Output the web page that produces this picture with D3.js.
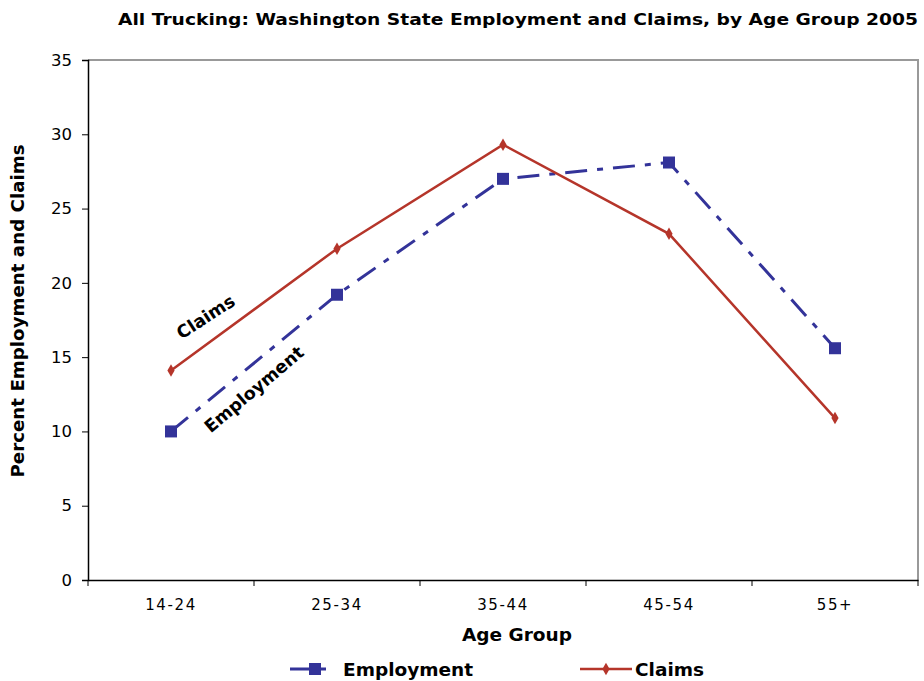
<!DOCTYPE html>
<html>
<head>
<meta charset="utf-8">
<script src="https://cdn.jsdelivr.net/npm/d3@7"></script>
<style>
body { margin: 0; background: #fff; }
text { font-family: "DejaVu Sans", Verdana, sans-serif; }
</style>
</head>
<body>
<script>
var ages = ['14-24', '25-34', '35-44', '45-54', '55+'];
var employment = [10.0, 19.2, 27.0, 28.1, 15.6];
var claims = [14.1, 22.3, 29.3, 23.3, 10.9];
var yTicks = [0, 5, 10, 15, 20, 25, 30, 35];

var width = 924, height = 681;
var m = {left: 88, right: 6, top: 60, bottom: 101};
var blue = '#333399', red = '#b5352a';

var svg = d3.select('body').append('svg')
   .attr('width', width)
   .attr('height', height);

var x = d3.scaleBand().domain(ages).range([m.left, width - m.right]);
var y = d3.scaleLinear().domain([0, 35]).range([height - m.bottom, m.top]);

// plot frame (top & right in grey)
svg.append('path')
   .attr('d', 'M' + m.left + ',' + m.top + 'H' + (width - m.right) + 'V' + (height - m.bottom))
   .attr('fill', 'none')
   .attr('stroke', '#999')
   .attr('stroke-width', 2);

var yAxis = svg.append('g')
   .attr('transform', 'translate(' + m.left + ',0)')
   .call(d3.axisLeft(y).tickValues(yTicks).tickSize(6).tickPadding(10));
yAxis.selectAll('text').attr('font-size', 16.5).attr('fill', '#000');

var xAxis = svg.append('g')
   .attr('transform', 'translate(0,' + (height - m.bottom) + ')')
   .call(d3.axisBottom(x).tickSize(0).tickPadding(19));
xAxis.selectAll('text').attr('font-size', 15).attr('fill', '#000').attr('letter-spacing', 1.6);
// ticks between categories
xAxis.selectAll('line.sep')
   .data(ages.concat(['end']))
   .enter().append('line')
   .attr('class', 'sep')
   .attr('x1', function(d, i) { return m.left + i * x.step(); })
   .attr('x2', function(d, i) { return m.left + i * x.step(); })
   .attr('y1', 0).attr('y2', 6)
   .attr('stroke', '#000');
svg.selectAll('.domain').attr('stroke', '#000').attr('stroke-width', 1.5);

var cx = function(d, i) { return x(ages[i]) + x.bandwidth() / 2; };

// employment
svg.append('path')
   .datum(employment)
   .attr('d', d3.line().x(cx).y(function(d) { return y(d); }))
   .attr('fill', 'none')
   .attr('stroke', blue)
   .attr('stroke-width', 3)
   .attr('stroke-dasharray', '22,10,6,10');
svg.selectAll('rect.emp')
   .data(employment)
   .enter().append('rect')
   .attr('class', 'emp')
   .attr('x', function(d, i) { return cx(d, i) - 6; })
   .attr('y', function(d) { return y(d) - 6; })
   .attr('width', 12).attr('height', 12)
   .attr('fill', blue);

// claims
svg.append('path')
   .datum(claims)
   .attr('d', d3.line().x(cx).y(function(d) { return y(d); }))
   .attr('fill', 'none')
   .attr('stroke', red)
   .attr('stroke-width', 2.5);
svg.selectAll('path.clm')
   .data(claims)
   .enter().append('path')
   .attr('class', 'clm')
   .attr('d', d3.symbol(d3.symbolDiamond, 45))
   .attr('transform', function(d, i) { return 'translate(' + cx(d, i) + ',' + y(d) + ')'; })
   .attr('fill', red);

// in-chart labels
svg.append('text')
   .attr('transform', 'translate(209,322) rotate(-33)')
   .attr('text-anchor', 'middle')
   .attr('font-size', 17.5).attr('font-weight', 'bold')
   .text('Claims');
svg.append('text')
   .attr('transform', 'translate(258,394) rotate(-40)')
   .attr('text-anchor', 'middle')
   .attr('font-size', 17.5).attr('font-weight', 'bold')
   .text('Employment');

// titles
svg.append('text')
   .attr('x', 918).attr('y', 25)
   .attr('text-anchor', 'end')
   .attr('font-size', 15).attr('font-weight', 'bold')
   .attr('textLength', 800).attr('lengthAdjust', 'spacingAndGlyphs')
   .text('All Trucking: Washington State Employment and Claims, by Age Group 2005');
svg.append('text')
   .attr('x', 517).attr('y', 641)
   .attr('text-anchor', 'middle')
   .attr('font-size', 18.5).attr('font-weight', 'bold')
   .text('Age Group');
svg.append('text')
   .attr('transform', 'translate(24,311) rotate(-90)')
   .attr('text-anchor', 'middle')
   .attr('font-size', 18).attr('font-weight', 'bold')
   .attr('textLength', 333).attr('lengthAdjust', 'spacingAndGlyphs')
   .text('Percent Employment and Claims');

// legend
var leg = svg.append('g');
leg.append('line')
   .attr('x1', 290).attr('x2', 330).attr('y1', 669).attr('y2', 669)
   .attr('stroke', blue).attr('stroke-width', 3)
   .attr('stroke-dasharray', '22,5,9,5');
leg.append('rect')
   .attr('x', 309).attr('y', 663).attr('width', 12).attr('height', 12)
   .attr('fill', blue);
leg.append('text')
   .attr('x', 343).attr('y', 676)
   .attr('font-size', 18.5).attr('font-weight', 'bold')
   .text('Employment');
leg.append('line')
   .attr('x1', 580).attr('x2', 632).attr('y1', 669).attr('y2', 669)
   .attr('stroke', red).attr('stroke-width', 2.5);
leg.append('path')
   .attr('d', d3.symbol(d3.symbolDiamond, 45))
   .attr('transform', 'translate(606,669)')
   .attr('fill', red);
leg.append('text')
   .attr('x', 635).attr('y', 676)
   .attr('font-size', 18.5).attr('font-weight', 'bold')
   .text('Claims');
</script>
</body>
</html>
